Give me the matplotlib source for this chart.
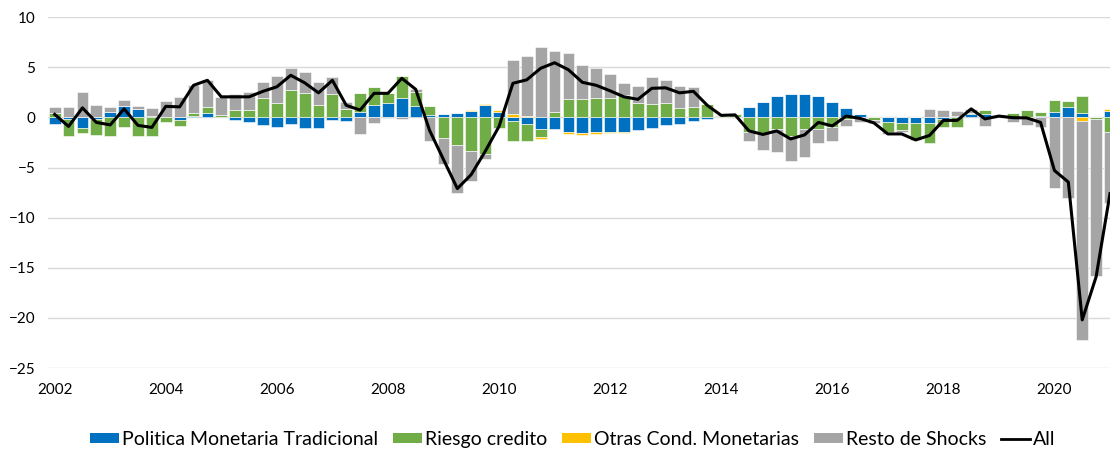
import numpy as np
import matplotlib
matplotlib.use("Agg")
import matplotlib.pyplot as plt
from matplotlib.lines import Line2D
from matplotlib.patches import Patch

plt.rcParams['font.family'] = ['Lato', 'DejaVu Sans']

# quarterly decomposition, 2002Q1 .. 2021Q1
politica = [-0.7, -0.2, -1.1, -0.2, 0.55, 1.1, 0.85, 0.15, 0.0, -0.3,
            0.15, 0.4, 0.0, -0.27, -0.5, -0.76, -1.0, -0.7, -1.03, -1.03,
            -0.3, -0.33, 0.56, 1.23, 1.4, 1.9, 1.13, 0.23, 0.33, 0.43,
            0.66, 1.2, 0.56, -0.37, -0.7, -1.16, -1.2, -1.43, -1.6, -1.5,
            -1.43, -1.43, -1.26, -1.1, -0.76, -0.7, -0.33, -0.17, 0.0, 0.0,
            1.06, 1.56, 2.13, 2.3, 2.3, 2.13, 1.56, 0.96, 0.3, 0.0,
            -0.43, -0.53, -0.6, -0.6, -0.2, 0.13, 0.35, 0.33, 0.05, 0.0,
            0.0, 0.17, 0.56, 1.06, 0.4, 0.0, 0.66]
riesgo = [0.4, -1.7, -0.45, -1.55, -1.85, -1.0, -1.85, -1.9, -0.5, -0.6,
          0.25, 0.65, 0.2, 0.73, 0.73, 1.9, 1.46, 2.72, 2.4, 1.23,
          2.3, 0.8, 1.83, 1.76, 1.06, 2.2, 1.43, 0.9, -2.1, -2.75,
          -3.4, -3.65, -1.1, -1.96, -1.63, -0.83, 0.56, 1.83, 1.83, 1.9,
          1.9, 2.2, 1.4, 1.3, 1.4, 0.96, 1.0, 1.33, 0.15, 0.3,
          -1.43, -1.6, -1.2, -1.9, -1.2, -1.16, -0.93, -0.17, 0.0, -0.25,
          -1.0, -0.73, -1.66, -2.0, -0.8, -1.0, 0.1, 0.4, 0.1, 0.4,
          0.73, 0.33, 1.16, 0.56, 1.76, -0.13, -1.43]
otras = [0.0] * 30 + [0.07, 0.13, 0.13, 0.33, 0.13, -0.13, 0.0, -0.23, -0.17, -0.17,
                      -0.1, -0.1] + [0.0] * 32 + [-0.33, 0.0, 0.17]
resto = [0.6, 1.0, 2.5, 1.2, 0.5, 0.65, 0.25, 0.8, 1.6, 2.0,
         2.8, 2.65, 1.8, 1.6, 1.8, 1.6, 2.65, 2.16, 2.1, 2.26,
         1.7, 0.76, -1.66, -0.6, -0.1, -0.2, 0.23, -2.33, -2.5, -4.75,
         -2.9, -0.53, 0.0, 5.4, 6.0, 7.0, 6.1, 4.55, 3.4, 3.0,
         2.4, 1.26, 1.76, 2.7, 2.33, 2.2, 2.0, 0.0, 0.05, -0.1,
         -0.9, -1.66, -2.3, -2.5, -2.8, -1.43, -1.43, -0.66, -0.43, -0.3,
         -0.23, -0.17, 0.0, 0.83, 0.73, 0.5, 0.4, -0.83, 0.05, -0.43,
         -0.76, -1.0, -7.0, -8.05, -21.9, -15.7, -7.07]
total = [0.3, -0.9, 0.95, -0.5, -0.75, 0.85, -0.8, -1.0, 1.1, 1.05,
         3.2, 3.7, 2.05, 2.05, 2.05, 2.6, 3.05, 4.2, 3.45, 2.45,
         3.7, 1.2, 0.73, 2.4, 2.4, 3.9, 2.8, -1.3, -4.2, -7.1,
         -5.7, -3.4, -0.9, 3.4, 3.75, 4.9, 5.45, 4.75, 3.5, 3.2,
         2.65, 2.05, 1.8, 2.9, 2.95, 2.45, 2.6, 1.2, 0.2, 0.25,
         -1.35, -1.7, -1.35, -2.15, -1.75, -0.5, -0.85, 0.13, -0.1, -0.55,
         -1.65, -1.65, -2.25, -1.8, -0.3, -0.3, 0.85, -0.15, 0.13, -0.03,
         -0.05, -0.5, -5.3, -6.45, -20.2, -15.9, -7.6]

series_names = ["Politica Monetaria Tradicional", "Riesgo credito",
                "Otras Cond. Monetarias", "Resto de Shocks"]
colors = ["#0070C0", "#70AD47", "#FFC000", "#A5A5A5"]
years = list(range(2002, 2021, 2))

x = np.arange(len(total))
fig = plt.figure(figsize=(11.1, 4.51), dpi=100)
ax = fig.add_axes([0.043, 0.184, 0.957, 0.778])

# stack positives up from zero and negatives down from zero
pos_base = np.zeros(len(x))
neg_base = np.zeros(len(x))
for vals, col in zip([politica, riesgo, otras, resto], colors):
    v = np.array(vals)
    bottom = np.where(v >= 0, pos_base, neg_base)
    ax.bar(x, v, bottom=bottom, width=0.85, color=col,
           edgecolor="white", linewidth=0.4, zorder=2)
    pos_base += np.clip(v, 0, None)
    neg_base += np.clip(v, None, 0)

ax.plot(x, total, color="black", linewidth=2.2, zorder=3)

ax.set_ylim(-25, 10)
ax.set_yticks(range(-25, 11, 5))
ax.set_xlim(-0.5, 76.0)
ax.set_xticks(np.arange(0, 73, 8))
ax.set_xticklabels([str(y) for y in years])
ax.tick_params(length=0, labelsize=11, colors="#000000")
ax.tick_params(axis="x", pad=11)
ax.tick_params(axis="y", pad=9)
ax.grid(axis="y", color="#D9D9D9", linewidth=1, zorder=0)
for s in ax.spines.values():
    s.set_visible(False)

handles = [Patch(facecolor=c, edgecolor="none") for c in colors]
handles.append(Line2D([0], [0], color="black", linewidth=2.0))
fig.legend(handles, series_names + ["All"], loc="center",
           bbox_to_anchor=(0.516, 0.026), ncol=5, frameon=False,
           fontsize=14, handlelength=1.5, handleheight=0.45,
           handletextpad=0.15, columnspacing=0.75, borderpad=0)

fig.savefig("out.png", dpi=100)
